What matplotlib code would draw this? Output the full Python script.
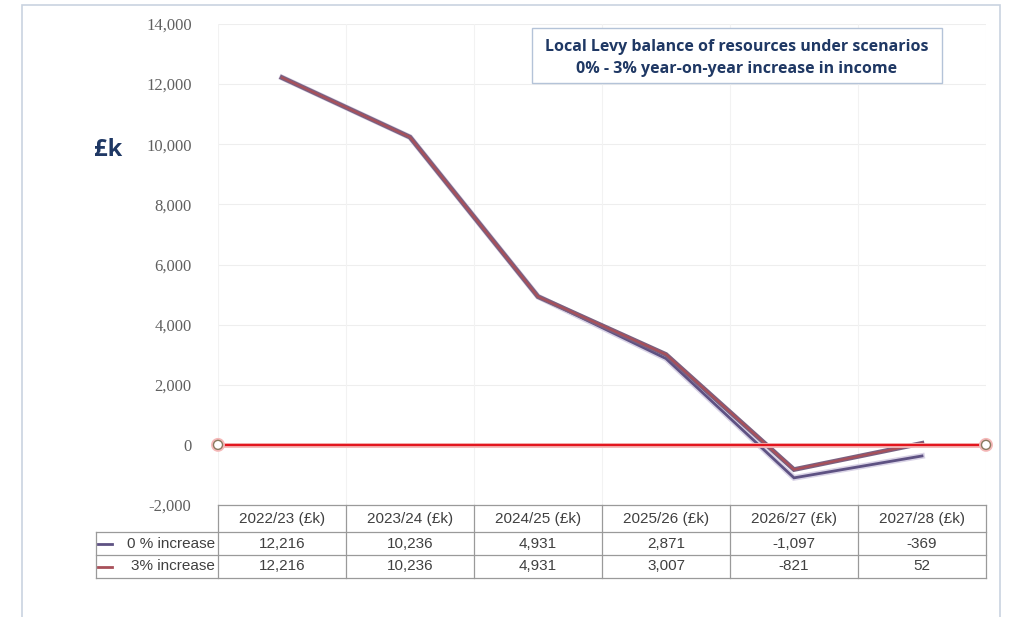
import matplotlib
matplotlib.use("Agg")
import matplotlib.pyplot as plt
import matplotlib.patheffects as pe
from matplotlib.transforms import blended_transform_factory
from matplotlib.patches import Rectangle
from matplotlib.lines import Line2D

categories = ["2022/23 (£k)", "2023/24 (£k)", "2024/25 (£k)", "2025/26 (£k)", "2026/27 (£k)", "2027/28 (£k)"]
series_names = ["0 % increase", "3% increase"]
zero_pct = [12216, 10236, 4931, 2871, -1097, -369]
three_pct = [12216, 10236, 4931, 3007, -821, 52]
yticks = [-2000, 0, 2000, 4000, 6000, 8000, 10000, 12000, 14000]
title_lines = ["Local Levy balance of resources under scenarios", "0% - 3% year-on-year increase in income"]

W, H = 1012, 617
fig = plt.figure(figsize=(W / 100, H / 100), dpi=100)
fig.patch.set_facecolor("white")

# outer frame
fig.add_artist(Rectangle((22 / W, -0.05), (1000 - 22) / W, (H - 5) / H + 0.05,
                         transform=fig.transFigure, fill=False, edgecolor="#c9d3e0", lw=1.2))

left, right, top, bottom = 218, 986, 24, 505
ax = fig.add_axes([left / W, 1 - bottom / H, (right - left) / W, (bottom - top) / H])
ax.set_xlim(-0.5, len(categories) - 0.5)
ax.set_ylim(-2000, 14000)
for s in ax.spines.values():
    s.set_visible(False)
ax.set_yticks(yticks)
ax.set_yticklabels([f"{v:,}" for v in yticks], family="Liberation Serif", fontsize=12, color="#606060")
ax.tick_params(axis="y", length=0, pad=19)
ax.set_xticks([])
for y in yticks:
    ax.axhline(y, color="#eeeeee", lw=0.8, zorder=0)
for i in range(len(categories) + 1):
    ax.axvline(i - 0.5, color="#f2f2f2", lw=0.8, zorder=0)

x = list(range(len(categories)))
c0 = "#5e5283"
c3 = "#a8505a"
ax.plot(x, zero_pct, color=c0, lw=2.0, zorder=3, solid_joinstyle="miter",
        path_effects=[pe.Stroke(linewidth=4.2, foreground="#d9d3e6"), pe.Normal()])
ax.plot(x, three_pct, color=c3, lw=1.6, zorder=4, solid_joinstyle="miter",
        path_effects=[pe.Stroke(linewidth=3.4, foreground="#7a6080"), pe.Normal()])
# zero baseline
ax.plot([-0.5, len(categories) - 0.5], [0, 0], color="#e3161f", lw=1.6, zorder=5,
        marker="o", markersize=6.5, markerfacecolor="white", markeredgecolor="#8a7a60",
        markeredgewidth=1.0, clip_on=False,
        path_effects=[pe.Stroke(linewidth=3.5, foreground="#f5b8b8"), pe.Normal()])

# £k label
fig.text(108 / W, 1 - 150 / H, "£k", fontsize=17, fontweight="bold", color="#1f3864",
         ha="center", va="center", family="Open Sans")

# title box
fig.add_artist(Rectangle((532 / W, 1 - 83 / H), (942 - 532) / W, (83 - 28) / H,
                         transform=fig.transFigure, fill=True, facecolor="white",
                         edgecolor="#b4c3d8", lw=1.0, zorder=10))
fig.text(737 / W, 1 - 47 / H, title_lines[0], fontsize=11.5, fontweight="bold", color="#1f3864",
         ha="center", va="center", family="Open Sans", zorder=11)
fig.text(737 / W, 1 - 69 / H, title_lines[1], fontsize=11.5, fontweight="bold", color="#1f3864",
         ha="center", va="center", family="Open Sans", zorder=11)

# data table
tr = blended_transform_factory(ax.transData, fig.transFigure)
def fy(py):
    return 1 - py / H
def fx(px):
    return px / W

grid_c = "#9a9a9a"
hdr_top, r1_top, r2_top, tbl_bot = 505, 532, 555, 578
lab_left = 96
tf = fig.transFigure
fig.add_artist(Line2D([fx(left), fx(right)], [fy(hdr_top)] * 2, color=grid_c, lw=0.9, transform=tf))
for py in (r1_top, r2_top, tbl_bot):
    fig.add_artist(Line2D([fx(lab_left), fx(right)], [fy(py)] * 2, color=grid_c, lw=0.9, transform=tf))
colw = (right - left) / len(categories)
for i in range(len(categories) + 1):
    px = left + i * colw
    fig.add_artist(Line2D([fx(px)] * 2, [fy(hdr_top), fy(tbl_bot)], color=grid_c, lw=0.9, transform=tf))
fig.add_artist(Line2D([fx(lab_left)] * 2, [fy(r1_top), fy(tbl_bot)], color=grid_c, lw=0.9, transform=tf))

tfont = dict(family=["Liberation Sans Narrow", "Liberation Sans"], fontsize=11, color="#404040")
for i, cat in enumerate(categories):
    ax.text(i, fy((hdr_top + r1_top) / 2 + 1), cat, transform=tr, ha="center", va="center", clip_on=False, **tfont)
rows = [zero_pct, three_pct]
row_mid = [(r1_top + r2_top) / 2, (r2_top + tbl_bot) / 2]
colors = [c0, c3]
for r, vals in enumerate(rows):
    for i, v in enumerate(vals):
        ax.text(i, fy(row_mid[r]), f"{v:,}", transform=tr, ha="center", va="center", clip_on=False, **tfont)
    fig.add_artist(Line2D([fx(98), fx(112)], [fy(row_mid[r])] * 2, color=colors[r], lw=2.0, transform=tf))
    fig.text(fx(215), fy(row_mid[r]), series_names[r], ha="right", va="center", **tfont)

fig.savefig("out.png", dpi=100, facecolor="white")
